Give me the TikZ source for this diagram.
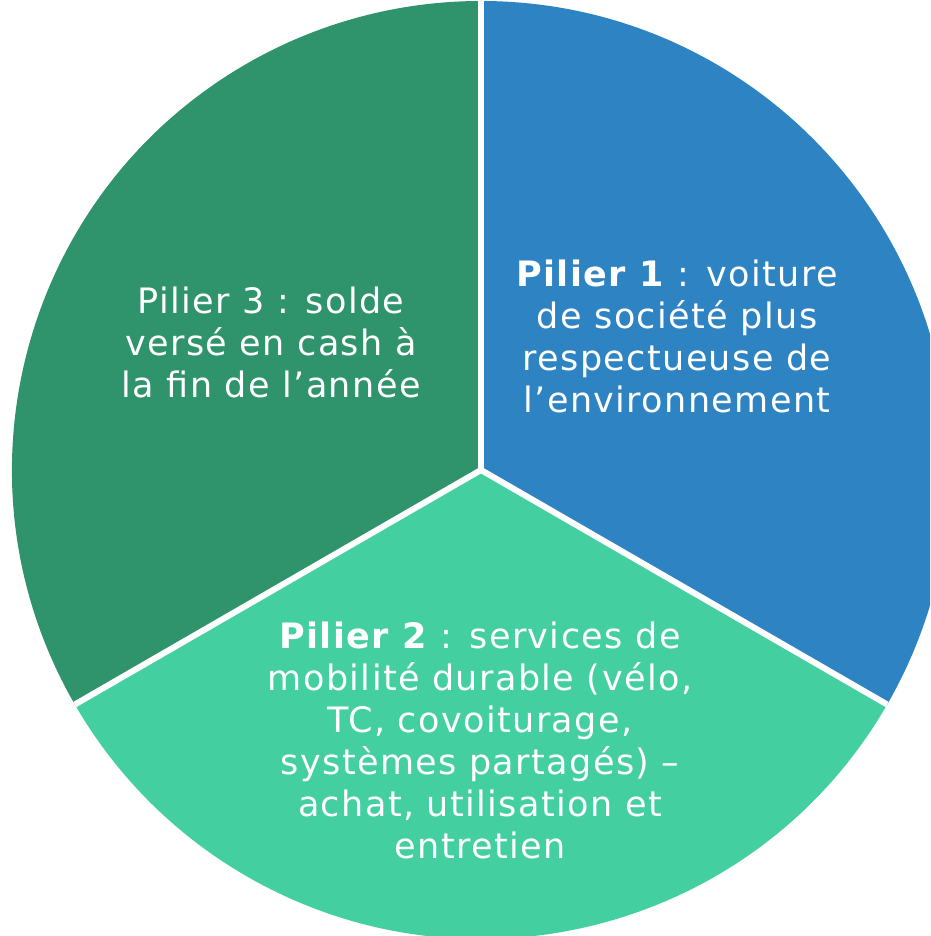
\documentclass[tikz,border=0pt]{standalone}
\usepackage{fontspec}
\setmainfont{DejaVu Sans}[LetterSpace=4]
\definecolor{pilierbleu}{HTML}{2E83C3}
\definecolor{pilierturq}{HTML}{44CFA1}
\definecolor{piliervert}{HTML}{2F936B}
\tikzset{
  secteur/.style={draw=white,line width=6pt,line join=round},
  texte/.style={text=white,align=center,font=\fontsize{35}{42}\selectfont}
}
\begin{document}
\begin{tikzpicture}[x=1pt,y=-1pt]
\useasboundingbox (0,0) rectangle (930,936);
\clip (0,0) rectangle (930,936);
\coordinate (c) at (481,470);
% les trois secteurs
\fill[pilierbleu] (c) -- ++(90:-469) arc[start angle=-90,end angle=30,radius=469] -- cycle;
\fill[pilierturq] (c) -- ++(30:469) arc[start angle=30,end angle=150,radius=469] -- cycle;
\fill[piliervert] (c) -- ++(150:469) arc[start angle=150,end angle=270,radius=469] -- cycle;
\draw[secteur] (c) -- ++(0,-469);
\draw[secteur] (c) -- ++(30:469);
\draw[secteur] (c) -- ++(150:469);
\node[texte] (p1) at (677,336) {\textbf{Pilier 1} : voiture\\de société plus\\respectueuse de\\l’environnement};
\node[texte] (p2) at (480,740) {\textbf{Pilier 2} : services de\\mobilité durable (vélo,\\TC, covoiturage,\\systèmes partagés) –\\achat, utilisation et\\entretien};
\node[texte] (p3) at (271,342) {Pilier 3 : solde\\versé en cash à\\la fin de l’année};
\end{tikzpicture}
\end{document}
